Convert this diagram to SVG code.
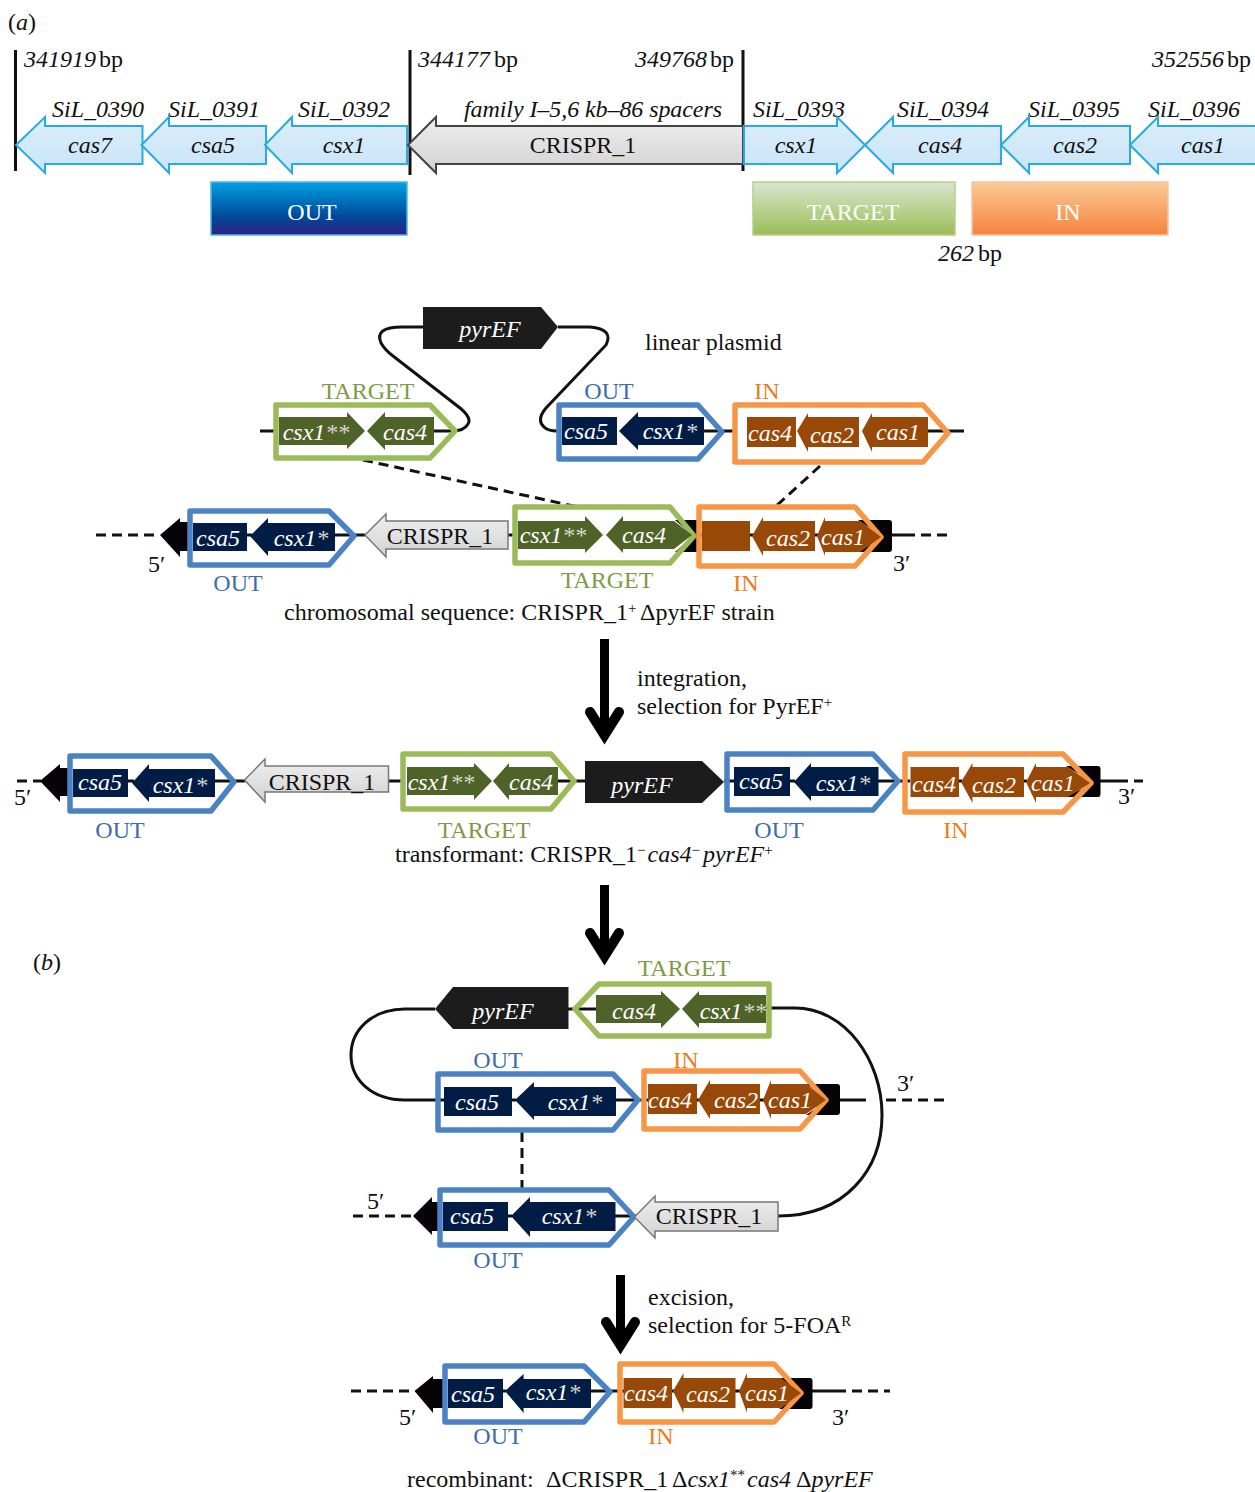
<svg xmlns="http://www.w3.org/2000/svg" width="1255" height="1492" viewBox="0 0 1255 1492">
<style>
text{font-family:"Liberation Serif","Times New Roman",serif;font-size:24px;fill:#111}
.i{font-style:italic}.m{text-anchor:middle}
.w{fill:#fff}.gi{font-style:italic;fill:#fff;text-anchor:middle}
.a{fill:#d4d8d0}
.sup{font-size:15px}
.lb{fill:url(#gb);stroke:#29abe2;stroke-width:2}
.gr{fill:url(#gg);stroke:#444;stroke-width:2}
.gr2{fill:url(#gg);stroke:#777;stroke-width:1.5}
.dg{fill:#4f6228}.nv{fill:#021d45}.br{fill:#984807}.bk{fill:#050308}.py{fill:#1c1c1c}
.bo{fill:none;stroke:#4a82c3;stroke-width:5.500;stroke-linejoin:round}
.bg{fill:none;stroke:#9bbb59;stroke-width:5.500;stroke-linejoin:round}
.bn{fill:none;stroke:#f79646;stroke-width:5.500;stroke-linejoin:round}
.cb{fill:#3c6eab}.cg{fill:#7f9a45}.cn{fill:#ee7a1c}
.l{fill:none;stroke:#111;stroke-width:3}
.d{fill:none;stroke:#111;stroke-width:3;stroke-dasharray:10 6}
.v{stroke:#111;stroke-width:3}
.ar{fill:none;stroke:#000;stroke-width:9}
.ah{fill:none;stroke:#000;stroke-width:10;stroke-linecap:round;stroke-linejoin:miter}
</style>
<defs>
<linearGradient id="gb" x1="0" y1="0" x2="0" y2="1"><stop offset="0" stop-color="#dcedf9"/><stop offset="1" stop-color="#c8e5f9"/></linearGradient>
<linearGradient id="gg" x1="0" y1="0" x2="0" y2="1"><stop offset="0" stop-color="#efefef"/><stop offset="1" stop-color="#d2d2d2"/></linearGradient>
<linearGradient id="go" x1="0" y1="0" x2="0" y2="1"><stop offset="0" stop-color="#00a0e3"/><stop offset=".65" stop-color="#004a9a"/><stop offset="1" stop-color="#2e2182"/></linearGradient>
<linearGradient id="gt" x1="0" y1="0" x2="0" y2="1"><stop offset="0" stop-color="#d8e6d0"/><stop offset="1" stop-color="#9dbd55"/></linearGradient>
<linearGradient id="gi" x1="0" y1="0" x2="0" y2="1"><stop offset="0" stop-color="#fbcb96"/><stop offset="1" stop-color="#f4833f"/></linearGradient>
</defs>
<rect width="1255" height="1492" fill="#fff"/>

<g id="connectors">
<path class="v" d="M15.500 50V171M410 50V175M743 50V171"/>
<path class="l" d="M423 327H402Q374 327 381 343Q385 350 393 356L460 408Q472 418 468 424Q464 431 452 431M434 431H455M260 431H274"/>
<path class="l" d="M558 327H590Q614 329 606 345L546 408Q536 420 544 427Q548 431 557 431M704 431H733M928 431H964"/>
<path class="d" d="M363 460L578 507"/>
<path class="d" d="M820 466L775 507"/>
<path class="d" d="M96 535H160"/>
<path class="l" d="M247 535H252M335 535H365M508 535H513M696 535H702M750 535H754M815 535H818M892 535H905"/>
<path class="d" d="M905 535H950"/>
<path class="d" d="M17 781H41"/>
<path class="l" d="M128 781H134M215 781H245M389 781H402M558 781H585M724 781H734M790 781H795M878 781H910M959 781H962M1024 781H1027M1100 781H1118"/>
<path class="d" d="M1118 781H1143"/>
<path class="l" d="M435 1009H405C372 1009 351 1030 351 1055C351 1080 372 1100 405 1100H444M512 1100H516M616 1100H648M697 1100H699M760 1100H764M840 1100H866M568 1009H596M766 1008H795C845 1008 882 1060 882 1115C882 1170 845 1216 778 1216"/>
<path class="d" d="M886 1100H948"/>
<path class="d" d="M522 1132V1188"/>
<path class="d" d="M353 1216H413"/>
<path class="l" d="M508 1216H512M615 1216H636"/>
<path class="d" d="M351 1391H415"/>
<path class="l" d="M503 1391H506M591 1391H624M672 1391H674M735 1391H740M812 1391H836"/>
<path class="d" d="M836 1391H890"/>
<path class="ar" d="M604.500 639V735"/><path class="ah" d="M590 712L604.500 735L619 712"/>
<path class="ar" d="M604.500 885V955"/><path class="ah" d="M590 933L604.500 956L619 933"/>
<path class="ar" d="M620.500 1275V1345"/><path class="ah" d="M606 1322L620.500 1345L635 1322"/>
</g>

<g id="panel-a-labels">
<text x="8" y="30">(<tspan class="i">a</tspan>)</text>
<text class="i" x="24" y="67">341919</text><text x="99" y="67">bp</text>
<text class="i" x="418" y="67">344177</text><text x="494" y="67">bp</text>
<text class="i" x="635" y="67">349768</text><text x="710" y="67">bp</text>
<text class="i" x="1152" y="67">352556</text><text x="1227" y="67">bp</text>
<text class="i" x="52" y="117">SiL_0390</text><text class="i" x="168" y="117">SiL_0391</text><text class="i" x="298" y="117">SiL_0392</text>
<text class="i" x="464" y="117" textLength="258">family I–5,6 kb–86 spacers</text>
<text class="i" x="753" y="117">SiL_0393</text><text class="i" x="897" y="117">SiL_0394</text><text class="i" x="1028" y="117">SiL_0395</text><text class="i" x="1148" y="117">SiL_0396</text>
<text class="i" x="938" y="261">262</text><text x="978" y="261">bp</text>
</g>
<g id="a-cas7"><path class="lb" d="M16 145L45 117V126H142.500V164H45V173Z"/><text class="i m" x="90" y="153">cas7</text></g>
<g id="a-csa5"><path class="lb" d="M141.500 145L169 117V126H266V164H169V173Z"/><text class="i m" x="213" y="153">csa5</text></g>
<g id="a-csx1"><path class="lb" d="M265 145L292 117V126H407V164H292V173Z"/><text class="i m" x="344" y="153">csx1</text></g>
<g id="a-crispr"><path class="gr" d="M408 145L436 117V126H743V164H436V173Z"/><text class="m" x="583" y="153">CRISPR_1</text></g>
<g id="a-csx1b"><path class="lb" d="M744 126H837V117L865 145L837 173V164H744Z"/><text class="i m" x="796" y="153">csx1</text></g>
<g id="a-cas4"><path class="lb" d="M865 145L893 117V126H1001V164H893V173Z"/><text class="i m" x="940" y="153">cas4</text></g>
<g id="a-cas2"><path class="lb" d="M1001 145L1029 117V126H1130V164H1029V173Z"/><text class="i m" x="1075" y="153">cas2</text></g>
<g id="a-cas1"><path class="lb" d="M1130 145L1158 117V126H1258V164H1158V173Z"/><text class="i m" x="1203" y="153">cas1</text></g>
<g id="a-out"><rect x="211" y="182" width="196" height="53" fill="url(#go)" stroke="#4db8e8" stroke-width="1.500"/><text class="m w" x="312" y="220">OUT</text></g>
<g id="a-target"><rect x="753" y="182" width="202" height="53" fill="url(#gt)" stroke="#b5cf8a" stroke-width="1.500"/><text class="m w" x="853" y="220">TARGET</text></g>
<g id="a-in"><rect x="972" y="182" width="196" height="53" fill="url(#gi)" stroke="#fac4a0" stroke-width="1.500"/><text class="m w" x="1068" y="220">IN</text></g>

<g id="plasmid">
<path class="py" d="M423 307H541L558 327L541 349H423Z"/><text class="gi" x="490" y="337">pyrEF</text>
<text x="645" y="350">linear plasmid</text>
<text class="m cg" x="368" y="399">TARGET</text><text class="m cb" x="609" y="399">OUT</text><text class="m cn" x="767" y="399">IN</text>
</g>
<g id="p-target"><path class="bg" d="M276 405H430L455 431L430 458H276Z"/>
<path class="dg" d="M279 417H347V412L365 431L347 449V445H279Z"/><path class="dg" d="M367 431L385 412V417H434V445H385V450Z"/>
<text class="gi" x="316" y="440">csx1<tspan class="a">**</tspan></text><text class="gi" x="405" y="440">cas4</text></g>
<g id="p-out"><path class="bo" d="M559 405H698L722 432L698 459H559Z"/>
<rect class="nv" x="562" y="417" width="55" height="28"/><path class="nv" d="M619 431L638 412V417H704V445H638V450Z"/>
<text class="gi" x="586" y="439">csa5</text><text class="gi" x="670" y="439">csx1<tspan class="a">*</tspan></text></g>
<g id="p-in"><path class="bn" d="M735 405H923L948 433L923 462H735Z"/>
<rect class="br" x="747" y="417" width="49" height="30"/><path class="br" d="M797 431L808 413V417H859V447H808V452Z"/><path class="br" d="M862 431L872 413V417H928V447H872V452Z"/>
<text class="gi" x="770" y="441">cas4</text><text class="gi" x="832" y="443">cas2</text><text class="gi" x="898" y="440">cas1</text></g>

<g id="c-black5"><path class="bk" d="M160 535L180 518V522H190V551H180V557Z"/></g>
<g id="c-out"><path class="bo" d="M190 511H329L354 536L329 565H190Z"/>
<rect class="nv" x="193" y="523" width="54" height="28"/><path class="nv" d="M250 536L268 518V523H335V551H268V556Z"/>
<text class="gi" x="218" y="546">csa5</text><text class="gi" x="301" y="546">csx1<tspan class="a">*</tspan></text></g>
<g id="c-crispr"><path class="gr2" d="M365 535L386 514V521H508V549H386V557Z"/><text class="m" x="440" y="544">CRISPR_1</text></g>
<g id="c-black3"><path class="bk" d="M675 520H697V552H675L693 536Z"/><path class="bk" d="M858 520H889Q892 520 892 523V549Q892 552 889 552H858L883 537Z"/></g>
<g id="c-target"><path class="bg" d="M515 507H670L694 536L670 563H515Z"/>
<path class="dg" d="M518 521H585V516L603 535L585 553V549H518Z"/><path class="dg" d="M606 535L623 516V521H674L692 535L674 549H623V553Z"/>
<text class="gi" x="553" y="543">csx1<tspan class="a">**</tspan></text><text class="gi" x="644" y="543">cas4</text></g>
<g id="c-in"><path class="bn" d="M699 507H855L881 537L855 566H699Z"/>
<rect class="br" x="702" y="521" width="48" height="30"/><path class="br" d="M752 536L763 517V521H815V551H763V556Z"/><path class="br" d="M817 536L825 517V521H860L881 537L860 552H825V556Z"/>
<text class="gi" x="788" y="546">cas2</text><text class="gi" x="843" y="545">cas1</text></g>
<g id="row2-labels">
<text x="148" y="572">5′</text><text x="893" y="571">3′</text>
<text class="m cb" x="238" y="591">OUT</text><text class="m cg" x="607" y="588">TARGET</text><text class="m cn" x="746" y="591">IN</text>
<text x="284" y="620">chromosomal sequence: CRISPR_1<tspan class="sup" dy="-7">+</tspan><tspan dy="7" x="640">ΔpyrEF strain</tspan></text>
<text x="637" y="686">integration,</text><text x="637" y="714">selection for PyrEF<tspan class="sup" dy="-7">+</tspan></text>
</g>

<g id="t-black5"><path class="bk" d="M40 781L60 764V768H70V796H60V802Z"/></g>
<g id="t-out"><path class="bo" d="M70 756H211L234 782L211 811H70Z"/>
<rect class="nv" x="73" y="769" width="55" height="28"/><path class="nv" d="M132 783L149 764V769H215V797H149V802Z"/>
<text class="gi" x="100" y="790">csa5</text><text class="gi" x="180" y="793">csx1<tspan class="a">*</tspan></text></g>
<g id="t-crispr"><path class="gr2" d="M244.500 780L265 759V766H388.500V792H265V802Z"/><text class="m" x="322" y="790">CRISPR_1</text></g>
<g id="t-target"><path class="bg" d="M403 754H551L574 781L551 809H403Z"/>
<path class="dg" d="M407 767H474V763L492 781L474 800V795H407Z"/><path class="dg" d="M493 781L509 763V767H558V795H509V800Z"/>
<text class="gi" x="441" y="790">csx1<tspan class="a">**</tspan></text><text class="gi" x="531" y="790">cas4</text></g>
<g id="t-pyref"><path class="py" d="M585 761H702L724 782L702 803H585Z"/><text class="gi" x="642" y="793">pyrEF</text></g>
<g id="t-out2"><path class="bo" d="M727 754H873L898 781L873 810H727Z"/>
<rect class="nv" x="734" y="767" width="56" height="29"/><path class="nv" d="M794 782L811 763V767H878.500V796H811V801Z"/>
<text class="gi" x="761" y="789">csa5</text><text class="gi" x="843" y="791">csx1<tspan class="a">*</tspan></text></g>
<g id="t-black3"><path class="bk" d="M1066 766H1098Q1100.500 766 1100.500 769V794Q1100.500 797 1098 797H1066L1093 783Z"/></g>
<g id="t-in"><path class="bn" d="M905 754H1063L1091 783L1063 812H905Z"/>
<rect class="br" x="910.500" y="767" width="48.500" height="30"/><path class="br" d="M961 782L972.500 763V767H1024V797H972.500V803Z"/><path class="br" d="M1026 782L1036 763V767H1068L1090 783L1068 797H1036V803Z"/>
<text class="gi" x="934" y="792">cas4</text><text class="gi" x="994" y="793">cas2</text><text class="gi" x="1053" y="791">cas1</text></g>
<g id="row3-labels">
<text x="14" y="805">5′</text><text x="1118" y="804">3′</text>
<text class="m cb" x="120" y="838">OUT</text><text class="m cg" x="484" y="838">TARGET</text><text class="m cb" x="779" y="838">OUT</text><text class="m cn" x="956" y="838">IN</text>
<text x="395" y="862">transformant: CRISPR_1<tspan class="sup" dy="-7">−</tspan><tspan class="i" dy="7" dx="2">cas4</tspan><tspan class="sup" dy="-7">−</tspan><tspan class="i" dy="7" dx="3">pyrEF</tspan><tspan class="sup" dy="-7">+</tspan></text>
</g>

<g id="b-labels"><text x="33" y="970">(<tspan class="i">b</tspan>)</text>
<text class="m cg" x="684" y="976">TARGET</text><text class="m cb" x="498" y="1068">OUT</text><text class="m cn" x="686" y="1068">IN</text>
<text x="897" y="1091">3′</text><text x="367" y="1209">5′</text><text class="m cb" x="498" y="1268">OUT</text></g>
<g id="b-pyref"><path class="py" d="M435 1009L453 987H568.500V1029H453Z"/><text class="gi" x="503" y="1019">pyrEF</text></g>
<g id="b-target"><path class="bg" d="M769 984H599L575 1009L599 1036H769Z"/>
<path class="dg" d="M596 995H661V991L680 1009L661 1028V1023H596Z"/><path class="dg" d="M682 1009L699 991V995H766V1023H699V1028Z"/>
<text class="gi" x="634" y="1019">cas4</text><text class="gi" x="733" y="1019">csx1<tspan class="a">**</tspan></text></g>
<g id="b-out"><path class="bo" d="M438 1074H613L638 1100L613 1130H438Z"/>
<rect class="nv" x="444" y="1087" width="68" height="29"/><path class="nv" d="M515 1100L534 1082V1087H616V1116H534V1120Z"/>
<text class="gi" x="477" y="1110">csa5</text><text class="gi" x="575" y="1110">csx1<tspan class="a">*</tspan></text></g>
<g id="b-black3"><path class="bk" d="M806 1084H837Q840 1084 840 1087V1112Q840 1115 837 1115H806L828 1100Z"/></g>
<g id="b-in"><path class="bn" d="M644 1071H800L826 1100L800 1129H644Z"/>
<rect class="br" x="648" y="1084" width="49" height="30"/><path class="br" d="M698 1100L710 1080V1084H760V1114H710V1119Z"/><path class="br" d="M763 1100L771 1080V1084H806L826 1100L806 1114H771V1119Z"/>
<text class="gi" x="670" y="1108">cas4</text><text class="gi" x="736" y="1108">cas2</text><text class="gi" x="790" y="1108">cas1</text></g>
<g id="b-black5"><path class="bk" d="M413 1216L432 1197V1202H441V1231H432V1235Z"/></g>
<g id="b-out2"><path class="bo" d="M440 1190H609L634 1217L609 1245H440Z"/>
<rect class="nv" x="443" y="1202" width="65" height="29"/><path class="nv" d="M511 1216L530 1197V1202H615.500V1231H530V1237Z"/>
<text class="gi" x="472" y="1224">csa5</text><text class="gi" x="569" y="1224">csx1<tspan class="a">*</tspan></text></g>
<g id="b-crispr"><path class="gr2" d="M634.500 1217L655 1196V1202H778V1231H655V1238Z"/><text class="m" x="709" y="1224">CRISPR_1</text></g>
<g id="b-text2"><text x="648" y="1305">excision,</text><text x="648" y="1333">selection for 5-FOA<tspan class="sup" dy="-7">R</tspan></text></g>

<g id="r-black5"><path class="bk" d="M414.500 1391L433 1376V1379H445V1408H433V1413Z"/></g>
<g id="r-out"><path class="bo" d="M445 1366H584L610 1392L584 1422H445Z"/>
<rect class="nv" x="448" y="1379" width="55" height="29"/><path class="nv" d="M505 1391L523.600 1374V1379H591V1408H523.600V1413Z"/>
<text class="gi" x="473" y="1402">csa5</text><text class="gi" x="553" y="1400">csx1<tspan class="a">*</tspan></text></g>
<g id="r-black3"><path class="bk" d="M779 1378H810Q812.500 1378 812.500 1381V1406Q812.500 1409 810 1409H779L802 1393Z"/></g>
<g id="r-in"><path class="bn" d="M620 1364H774L801 1393L774 1422H620Z"/>
<rect class="br" x="623.500" y="1378" width="48.500" height="30"/><path class="br" d="M673 1391L683.500 1373V1378H735.500V1408H683.500V1413Z"/><path class="br" d="M739 1391L747 1373V1378H781L801 1393L781 1408H747V1413Z"/>
<text class="gi" x="646" y="1401">cas4</text><text class="gi" x="708" y="1402">cas2</text><text class="gi" x="767" y="1401">cas1</text></g>
<g id="r-labels"><text x="399" y="1425">5′</text><text x="832" y="1425">3′</text>
<text class="m cb" x="498" y="1444">OUT</text><text class="m cn" x="661" y="1444">IN</text>
<text y="1487"><tspan x="407">recombinant:</tspan><tspan x="546">ΔCRISPR_1</tspan><tspan x="672">Δ</tspan><tspan class="i">csx1</tspan><tspan class="sup" dy="-7">**</tspan><tspan class="i" x="747" dy="7">cas4</tspan><tspan x="796">Δ</tspan><tspan class="i">pyrEF</tspan></text></g>
</svg>
